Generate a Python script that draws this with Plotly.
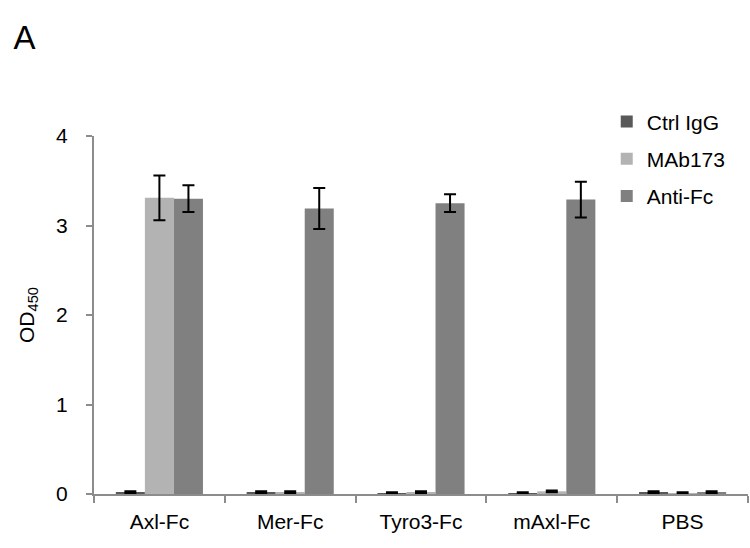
import plotly.graph_objects as go

categories = ["Axl-Fc", "Mer-Fc", "Tyro3-Fc", "mAxl-Fc", "PBS"]
series_names = ["Ctrl IgG", "MAb173", "Anti-Fc"]
ctrl_igg = [0.02, 0.02, 0.01, 0.01, 0.02]
ctrl_igg_err = [0.01, 0.01, 0.01, 0.01, 0.01]
mab173 = [3.31, 0.02, 0.02, 0.03, 0.01]
mab173_err = [0.25, 0.01, 0.01, 0.01, 0.01]
anti_fc = [3.30, 3.19, 3.25, 3.29, 0.02]
anti_fc_err = [0.15, 0.23, 0.10, 0.20, 0.01]
colors = ["#595959", "#b3b3b3", "#808080"]
y_ticks = [0, 1, 2, 3, 4]

FONT = "Liberation Sans, Arial, sans-serif"

fig = go.Figure()
for name, vals, errs, col in zip(series_names, [ctrl_igg, mab173, anti_fc],
                                 [ctrl_igg_err, mab173_err, anti_fc_err], colors):
    fig.add_trace(go.Bar(
        name=name, x=categories, y=vals, marker_color=col,
        marker_line_width=0, legendgroup=name,
        error_y=dict(type="data", array=errs, visible=True, color="black",
                     thickness=2, width=6),
    ))

fig.update_layout(
    width=750, height=548,
    margin=dict(l=94, r=2, t=136, b=54),
    paper_bgcolor="white", plot_bgcolor="white",
    barmode="group", bargap=0.334, bargroupgap=0,
    font=dict(family=FONT, size=21, color="black"),
    showlegend=True,
    legend=dict(x=0.784, y=1.097, xanchor="left", yanchor="top",
                font=dict(size=21), bgcolor="rgba(0,0,0,0)",
                traceorder="grouped", tracegroupgap=7),
    title=dict(text="A", x=0.018, xref="container", y=1 - 37 / 548, yref="container",
               yanchor="middle", xanchor="left", font=dict(size=33, family=FONT)),
    xaxis=dict(showline=True, linecolor="#8c8c8c", linewidth=2,
               ticks="outside", tickson="boundaries", ticklen=7, tickcolor="#8c8c8c",
               tickwidth=2, showgrid=False, tickfont=dict(size=21),
               ticklabelstandoff=8),
    yaxis=dict(range=[0, 4], tickvals=y_ticks, showline=True, linecolor="#8c8c8c",
               linewidth=2, ticks="outside", ticklen=6, tickcolor="#8c8c8c",
               tickwidth=2, showgrid=False, zeroline=False,
               ticklabelstandoff=14,
               title=dict(text="OD<sub>450</sub>", standoff=16, font=dict(size=21)),
               tickfont=dict(size=21)),
)

fig.write_html("out.html")
